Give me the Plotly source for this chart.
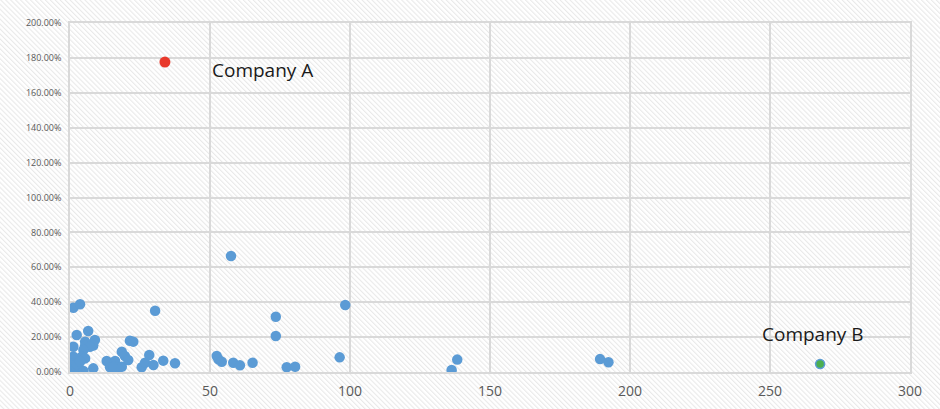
import plotly.graph_objects as go
import base64

# ---- data ----
others_x = [1.2, 3.6, 30.4, 57.5, 2.4, 6.5, 1.2, 5.4, 8.9, 8.3, 5.4, 7.1, 4.8, 4.2, 1.2,
            1.8, 5.4, 1.2, 3.0, 1.2, 4.8, 8.3, 2.4, 2.4, 3.6, 13.1, 16.1, 14.3, 16.4, 15.5,
            18.5, 19.6, 20.8, 18.5, 21.4, 22.6, 25.6, 26.8, 28.3, 29.8, 33.3, 37.5, 52.4,
            53.0, 54.2, 58.3, 60.7, 65.2, 73.5, 73.5, 77.4, 80.4, 96.3, 98.3, 136.3, 138.3,
            189.3, 192.3]
others_y = [36.8, 38.8, 35.1, 66.5, 21.2, 23.5, 14.5, 17.4, 18.3, 15.2, 15.0, 14.5, 12.6, 8.8, 8.8,
            7.8, 7.8, 5.0, 3.0, 0.6, 0.6, 2.1, 1.5, 4.5, 6.0, 6.3, 6.3, 2.7, 0.6, 3.0,
            11.6, 9.2, 6.9, 3.0, 17.9, 17.4, 2.7, 5.3, 9.7, 4.0, 6.5, 5.0, 9.2,
            7.3, 5.9, 5.3, 3.8, 5.3, 31.7, 20.6, 2.7, 3.0, 8.4, 38.4, 1.1, 7.1,
            7.4, 5.6]
company_a = {"name": "Company A", "x": 33.9, "y": 177.6}
company_b = {"name": "Company B", "x": 267.9, "y": 4.6}
x_ticks = [0, 50, 100, 150, 200, 250, 300]
y_ticks = [0, 20, 40, 60, 80, 100, 120, 140, 160, 180, 200]

W, H = 940, 409
L, R, T, B = 70, 30, 23, 37
pw, ph = W - L - R, H - T - B

# hatched background as svg image
svg = f'''<svg xmlns="http://www.w3.org/2000/svg" width="{W}" height="{H}" viewBox="0 0 {W} {H}" preserveAspectRatio="none">
<defs><pattern id="p" width="3.5" height="3.5" patternUnits="userSpaceOnUse" patternTransform="rotate(-45)">
<line x1="0.6" y1="0" x2="0.6" y2="3.5" stroke="#e6e6e6" stroke-width="1"/></pattern></defs>
<rect width="{W}" height="{H}" fill="white"/><rect width="{W}" height="{H}" fill="url(#p)"/></svg>'''
src = "data:image/svg+xml;base64," + base64.b64encode(svg.encode()).decode()

fig = go.Figure()
fig.add_trace(go.Scatter(x=others_x, y=[v / 100 for v in others_y], mode="markers",
                         marker=dict(size=10.5, color="#5b9bd5", line=dict(width=0)),
                         showlegend=False, hoverinfo="x+y"))
fig.add_trace(go.Scatter(x=[company_a["x"]], y=[company_a["y"] / 100], mode="markers",
                         marker=dict(size=11, color="#e8392b", line=dict(width=0)),
                         showlegend=False))
fig.add_trace(go.Scatter(x=[company_b["x"]], y=[company_b["y"] / 100], mode="markers",
                         marker=dict(size=9, color="#4caf50", line=dict(width=1.5, color="#5b9bd5")),
                         showlegend=False))

fig.add_annotation(x=50, y=1.73, text=company_a["name"], showarrow=False, xanchor="left",
                   yanchor="middle", font=dict(family="Open Sans", size=19, color="#1a1a1a"))
fig.add_annotation(x=265.2, y=0.218, text=company_b["name"], showarrow=False, xanchor="center",
                   yanchor="middle", font=dict(family="Open Sans", size=19, color="#1a1a1a"))

fig.add_layout_image(dict(source=src, xref="paper", yref="paper",
                          x=-L / pw, y=1 + T / ph, sizex=W / pw, sizey=H / ph,
                          xanchor="left", yanchor="top", sizing="stretch", layer="below"))

fig.update_layout(
    width=W, height=H, margin=dict(l=L, r=R, t=T, b=B, autoexpand=False),
    paper_bgcolor="white", plot_bgcolor="rgba(0,0,0,0)",
    font=dict(family="Open Sans", color="#595959"),
)
fig.update_xaxes(range=[0, 300], tickvals=x_ticks, showgrid=True, gridcolor="#d9d9d9", gridwidth=1.5,
                 zeroline=False, showline=True, linecolor="#d9d9d9", linewidth=1.5, mirror=True,
                 tickfont=dict(size=14, color="#595959"), ticks="", ticklabelstandoff=5,
                 automargin=False, fixedrange=True)
fig.update_yaxes(range=[0, 2.0], tickvals=[v / 100 for v in y_ticks], tickformat=".2%",
                 showgrid=True, gridcolor="#d9d9d9", gridwidth=1.5,
                 zeroline=False, showline=True, linecolor="#d9d9d9", linewidth=1.5, mirror=True,
                 tickfont=dict(size=9, color="#595959"), ticks="", ticklabelstandoff=5,
                 automargin=False, fixedrange=True)

fig.write_html("out.html", config={"displayModeBar": False},
               post_script="document.body.style.margin='0';document.body.style.overflow='hidden';")
